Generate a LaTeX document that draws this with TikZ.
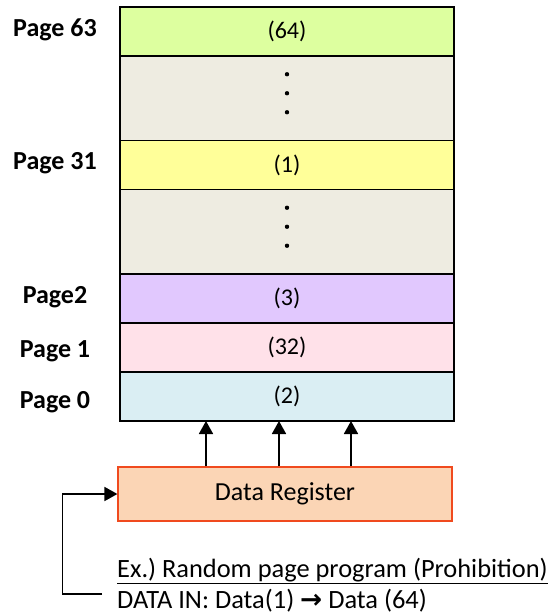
\documentclass[tikz,border=0pt]{standalone}
\usepackage{fontspec}
\setmainfont{Carlito}
\newfontfamily\arrowfont{DejaVu Sans}
\usetikzlibrary{positioning,arrows.meta}
\definecolor{pgLime}{HTML}{DDFF9F}
\definecolor{pgCream}{HTML}{EEECE1}
\definecolor{pgYellow}{HTML}{FFFF99}
\definecolor{pgLilac}{HTML}{E1C8FE}
\definecolor{pgPink}{HTML}{FFE1E9}
\definecolor{pgBlue}{HTML}{DAEEF3}
\definecolor{regFill}{HTML}{FBD5B5}
\definecolor{regEdge}{HTML}{F04A1E}

\begin{document}
\begin{tikzpicture}[x=1pt, y=-1pt,
  row/.style = {draw, line width=1.2pt, outer sep=0pt, minimum width=334pt, minimum height=49pt, font=\fontsize{24}{28}\selectfont},
  gap/.style = {row, fill=pgCream, minimum height=84.5pt},
  lbl/.style = {anchor=base, font=\fontsize{26}{30}\selectfont\bfseries},
  reg/.style = {draw=regEdge, fill=regFill, line width=1.2pt, minimum width=334pt, minimum height=54pt, font=\fontsize{26}{30}\selectfont},
  note/.style = {anchor=base west, inner sep=0pt, font=\fontsize{26.4}{30}\selectfont\frenchspacing},
  arr/.style = {line width=1.8pt, -{Triangle[length=13pt, width=14pt]}}]
\useasboundingbox (0,0) rectangle (559,614);
\node[row, fill=pgLime, anchor=north] (p63) at (287,7) {(64)};
\node[gap] (g1) [below=0pt of p63] {};
\node[row, fill=pgYellow] (p31) [below=0pt of g1] {(1)};
\node[gap] (g2) [below=0pt of p31] {};
\node[row, fill=pgLilac] (p2) [below=0pt of g2] {(3)};
\node[row, fill=pgPink] (p1) [below=0pt of p2] {(32)};
\node[row, fill=pgBlue] (p0) [below=0pt of p1] {(2)};
\foreach \g in {g1,g2}
  \foreach \dy in {24,5,-14}
    \fill ([yshift=\dy pt]\g.center) circle (2.2pt);
\node[lbl] (l63) at (55,36) {Page 63};
\node[lbl] (l31) at (55,169) {Page 31};
\node[lbl] (l2) at (55,303) {Page2};
\node[lbl] (l1) at (55,357) {Page 1};
\node[lbl] (l0) at (55,408) {Page 0};
\node[reg] (reg) at (285,494) {Data Register};
\foreach \dx in {-79,-6,66}
  \draw[arr] ([xshift=\dx pt]reg.north) -- ([xshift=\dx pt]reg.north |- p0.south);
\node[note] (ex) at (117,577) {\underline{Ex.) Random page program (Prohibition)}};
\node[note] (din) at (117,608) {DATA IN: Data(1) {\arrowfont\bfseries →} Data (64)};
\draw[arr] ([xshift=-15pt, yshift=6pt]din.west) -| ([xshift=-55pt]reg.west) -- (reg.west);
\end{tikzpicture}
\end{document}
